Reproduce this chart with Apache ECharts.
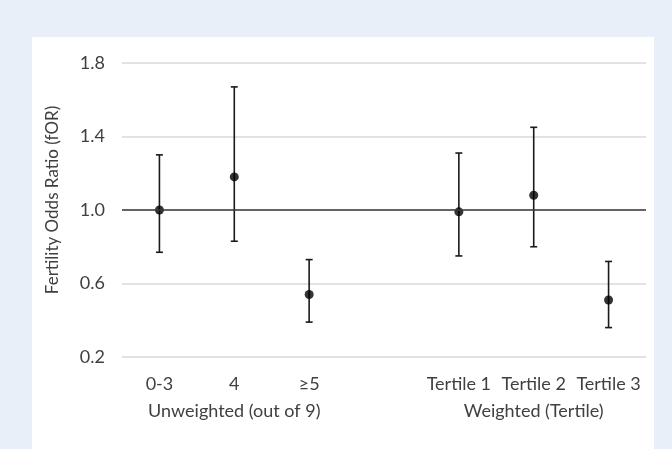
<!DOCTYPE html>
<html>
<head>
<meta charset="utf-8">
<script src="https://cdn.jsdelivr.net/npm/echarts@6/dist/echarts.min.js"></script>
<style>
  html, body { margin: 0; padding: 0; background: #e8eff9; }
  #chart { width: 672px; height: 449px; }
</style>
</head>
<body>
<div id="chart"></div>
<script>
// categories on the x axis (empty slot separates the two groups)
var categories = ['0-3', '4', '≥5', '', 'Tertile 1', 'Tertile 2', 'Tertile 3'];
var groupLabels = ['', 'Unweighted (out of 9)', '', '', '', 'Weighted (Tertile)', ''];
// fertility odds ratio and 95% CI
var estimates = [1.00, 1.18, 0.54, null, 0.99, 1.08, 0.51];
var lower = [0.77, 0.83, 0.39, null, 0.75, 0.80, 0.36];
var upper = [1.30, 1.67, 0.73, null, 1.31, 1.45, 0.72];
var yTicks = [0.2, 0.6, 1.0, 1.4, 1.8];

var font = 'Lato, "Open Sans", sans-serif';

var errData = [];
for (var i = 0; i < categories.length; i++) {
  if (estimates[i] !== null) {
    errData.push([i, lower[i], upper[i]]);
  }
}
var pointData = [];
for (var j = 0; j < categories.length; j++) {
  if (estimates[j] !== null) {
    pointData.push([j, estimates[j]]);
  }
}

var chart = echarts.init(document.getElementById('chart'));
var option = {
  backgroundColor: '#e8eff9',
  animation: false,
  graphic: [{
    type: 'rect',
    left: 32, top: 37,
    shape: { width: 622, height: 420 },
    style: { fill: '#ffffff' },
    z: -10
  }],
  grid: { left: 122, right: 26, top: 63, bottom: 92 },
  xAxis: [{
    type: 'category',
    data: categories,
    axisLine: { show: false },
    axisTick: { show: false },
    axisLabel: { color: '#404040', fontFamily: font, fontSize: 18, margin: 18, interval: 0, hideOverlap: false }
  }, {
    type: 'category',
    position: 'bottom',
    offset: 27,
    data: groupLabels,
    axisLine: { show: false },
    axisTick: { show: false },
    axisLabel: { color: '#404040', fontFamily: font, fontSize: 18, margin: 18, interval: 0, hideOverlap: false }
  }],
  yAxis: {
    type: 'value',
    min: yTicks[0],
    max: yTicks[yTicks.length - 1],
    interval: 0.4,
    name: 'Fertility Odds Ratio (fOR)',
    nameLocation: 'middle',
    nameGap: 61,
    nameTextStyle: { color: '#404040', fontFamily: font, fontSize: 17, padding: [0, 0, 0, 20] },
    axisLine: { show: false },
    axisTick: { show: false },
    axisLabel: {
      color: '#404040', fontFamily: font, fontSize: 18, margin: 17,
      formatter: function (v) { return v.toFixed(1); }
    },
    splitLine: { lineStyle: { color: '#d9d9d9', width: 1.5 } }
  },
  series: [{
    type: 'custom',
    xAxisIndex: 0,
    data: errData,
    renderItem: function (params, api) {
      var x = api.value(0);
      var lo = api.coord([x, api.value(1)]);
      var hi = api.coord([x, api.value(2)]);
      var cap = 3.5;
      var st = { stroke: '#1a1a1a', lineWidth: 1.6 };
      return {
        type: 'group',
        children: [
          { type: 'line', shape: { x1: lo[0], y1: lo[1], x2: hi[0], y2: hi[1] }, style: st },
          { type: 'line', shape: { x1: lo[0] - cap, y1: lo[1], x2: lo[0] + cap, y2: lo[1] }, style: st },
          { type: 'line', shape: { x1: hi[0] - cap, y1: hi[1], x2: hi[0] + cap, y2: hi[1] }, style: st }
        ]
      };
    },
    z: 3
  }, {
    type: 'scatter',
    xAxisIndex: 0,
    data: pointData,
    symbol: 'circle',
    symbolSize: 9,
    itemStyle: { color: '#000000' },
    z: 4,
    markLine: {
      silent: true,
      symbol: 'none',
      label: { show: false },
      lineStyle: { color: '#3a3a3a', width: 1.6, type: 'solid' },
      data: [{ yAxis: 1.0 }]
    }
  }]
};
chart.setOption(option);
</script>
</body>
</html>
